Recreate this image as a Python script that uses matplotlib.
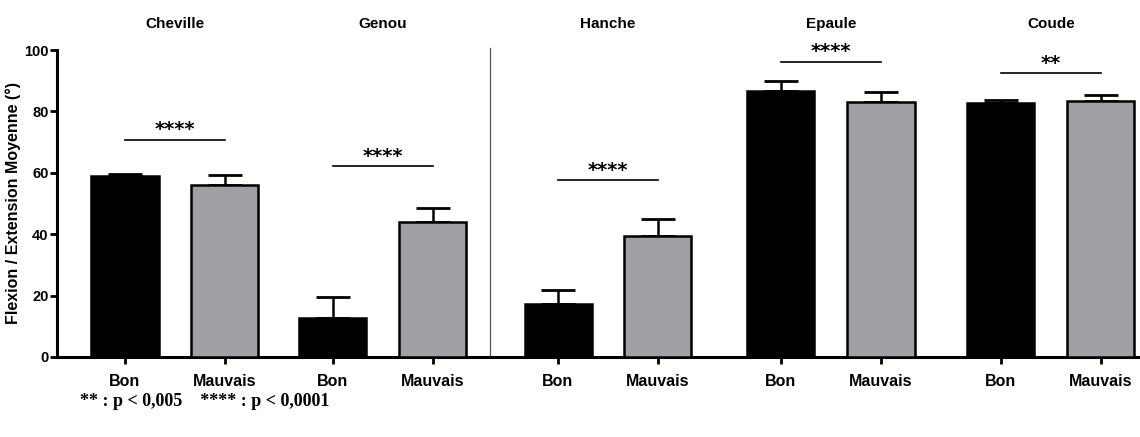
import matplotlib.pyplot as plt

plt.rcParams["font.family"] = ["Liberation Sans", "DejaVu Sans"]
plt.rcParams["font.weight"] = "bold"

joints = ["Cheville", "Genou", "Hanche", "Epaule", "Coude"]
groups = ["Bon", "Mauvais"]
bon_mean = [58.8, 12.7, 17.3, 86.5, 82.7]
bon_err = [0.7, 6.9, 4.6, 3.3, 1.0]
mauvais_mean = [55.9, 44.1, 39.5, 83.1, 83.3]
mauvais_err = [3.3, 4.3, 5.6, 3.2, 2.2]
sig_labels = ["****", "****", "****", "****", "**"]
sig_height = [70.8, 62.1, 57.5, 96.2, 92.4]
footnote = "** : p < 0,005    **** : p < 0,0001"

# layout: panel centres in units of bar spacing
centers = [1.18, 3.26, 5.51, 7.74, 9.94]
half = 0.5
width = 0.67
gray = "#a0a0a4"

fig = plt.figure(figsize=(11.4, 4.37), dpi=100)
ax = fig.add_axes([57 / 1140, 80 / 437, 1 - 57 / 1140, 307 / 437])

x_bon = [c - half for c in centers]
x_mau = [c + half for c in centers]

ax.bar(x_bon, bon_mean, width=width, color="black", edgecolor="black", linewidth=1.8, zorder=3)
ax.bar(x_mau, mauvais_mean, width=width, color=gray, edgecolor="black", linewidth=1.8, zorder=3)
ax.errorbar(x_bon, bon_mean, yerr=[[0] * 5, bon_err], fmt="none", ecolor="black",
            elinewidth=1.8, capsize=12.5, capthick=2, zorder=2)
ax.errorbar(x_mau, mauvais_mean, yerr=[[0] * 5, mauvais_err], fmt="none", ecolor="black",
            elinewidth=1.8, capsize=12.5, capthick=2, zorder=2)

for xb, xm, h, lab in zip(x_bon, x_mau, sig_height, sig_labels):
    ax.plot([xb, xm], [h, h], color="black", linewidth=1.2)
    ax.text((xb + xm) / 2, h + 0.2, lab, ha="center", va="bottom", fontsize=14,
            fontweight="bold", family="DejaVu Sans")

for c, name in zip(centers, joints):
    ax.text(c, 108.5, name, ha="center", va="center", fontsize=11, fontweight="bold")

# separator between Genou and Hanche panels
sep_x = (centers[1] + centers[2]) / 2 - 0.05
ax.plot([sep_x, sep_x], [0, 100.5], color="#555555", linewidth=0.9, clip_on=False)

ax.set_xlim(0, 10.83)
ax.set_ylim(0, 100)
ax.set_yticks([0, 20, 40, 60, 80, 100])
ax.set_xticks(x_bon + x_mau)
ax.set_xticklabels([groups[0]] * 5 + [groups[1]] * 5, fontsize=11.5, fontweight="bold")
ax.tick_params(axis="y", labelsize=10.5, width=2, length=5, pad=1)
ax.tick_params(axis="x", width=2, length=5, pad=7)
ax.set_ylabel("Flexion / Extension Moyenne (°)", fontsize=11.5, fontweight="bold", labelpad=2)

for side in ["top", "right"]:
    ax.spines[side].set_visible(False)
ax.spines["left"].set_linewidth(2.2)
ax.spines["bottom"].set_linewidth(2.2)

fig.text(80 / 1140, 1 - 401 / 437, footnote, ha="left", va="center", fontsize=13,
         fontweight="bold", family="Liberation Serif")

fig.savefig("out.png", dpi=100)
